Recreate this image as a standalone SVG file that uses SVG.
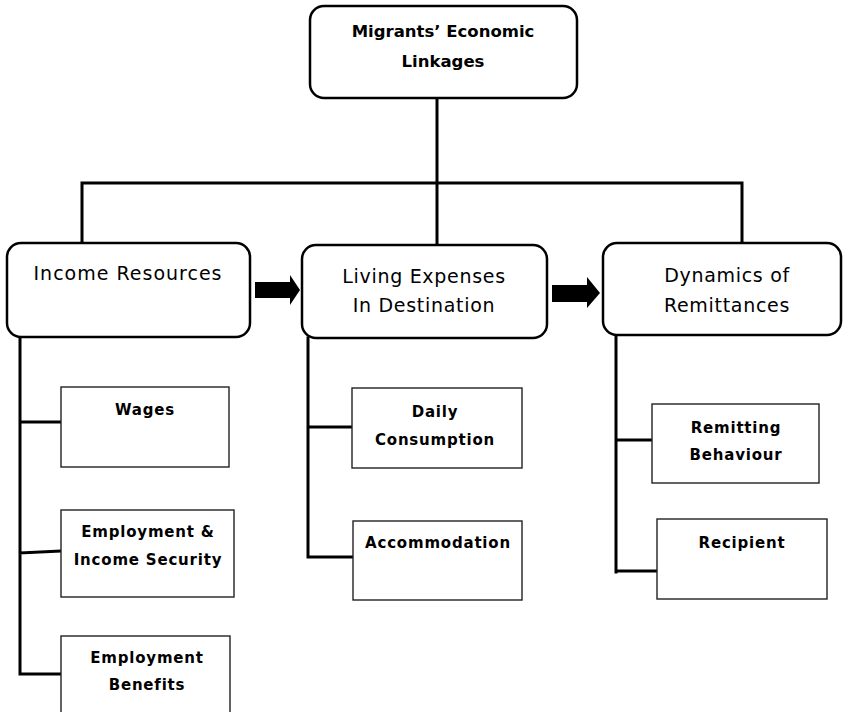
<svg xmlns="http://www.w3.org/2000/svg" width="843" height="712" viewBox="0 0 843 712">
<style>
.rb{fill:#fff;stroke:#000;stroke-width:2.5}
.sb{fill:#fff;stroke:#222;stroke-width:1.4}
.ln{fill:none;stroke:#000;stroke-width:3;stroke-linecap:square}
.ar{fill:#000}
.tt{font-family:"DejaVu Sans",sans-serif;font-weight:bold;font-size:16.5px;fill:#000;text-anchor:middle}
.mt{font-family:"DejaVu Sans",sans-serif;font-size:19px;fill:#000;text-anchor:middle;letter-spacing:0.7px}
.st{font-family:"DejaVu Sans",sans-serif;font-weight:bold;font-size:15px;fill:#000;text-anchor:middle;letter-spacing:0.8px}
</style>
<rect width="843" height="712" fill="#fff"/>
<g id="connectors">
<path class="ln" d="M437 98V183M82 183H742M82 183V243M437 183V245M742 183V243"/>
<path class="ln" d="M20 337V674M20 422H61M20 553L61 551M20 674H61"/>
<path class="ln" d="M308 338V557M308 427H352M308 557H353"/>
<path class="ln" d="M616 335V572M616 440H652M616 571H657"/>
<polygon class="ar" points="255,282 290,282 290,275 300,290 290,305 290,298 255,298"/>
<polygon class="ar" points="552,285 587,285 587,277 600,293 587,308 587,302 552,302"/>
</g>
<g id="top">
<rect class="rb" x="310" y="6" width="267" height="92" rx="14"/>
<text class="tt" x="443" y="37">Migrants’ Economic</text>
<text class="tt" x="443" y="67">Linkages</text>
</g>
<g id="income">
<rect class="rb" x="7" y="243" width="243" height="94" rx="14"/>
<text class="mt" x="128" y="280" style="letter-spacing:1px">Income Resources</text>
</g>
<g id="living">
<rect class="rb" x="302" y="245" width="245" height="93" rx="14"/>
<text class="mt" x="424" y="283">Living Expenses</text>
<text class="mt" x="424" y="312">In Destination</text>
</g>
<g id="dynamics">
<rect class="rb" x="603" y="243" width="238" height="92" rx="14"/>
<text class="mt" x="727" y="282">Dynamics of</text>
<text class="mt" x="727" y="312">Remittances</text>
</g>
<g id="wages">
<rect class="sb" x="61" y="387" width="168" height="80"/>
<text class="st" x="145" y="415">Wages</text>
</g>
<g id="employment-income">
<rect class="sb" x="61" y="510" width="173" height="87"/>
<text class="st" x="148" y="537">Employment &amp;</text>
<text class="st" x="148" y="565">Income Security</text>
</g>
<g id="employment-benefits">
<rect class="sb" x="61" y="636" width="169" height="80"/>
<text class="st" x="147" y="663">Employment</text>
<text class="st" x="147" y="690">Benefits</text>
</g>
<g id="daily">
<rect class="sb" x="352" y="388" width="170" height="80"/>
<text class="st" x="435" y="417">Daily</text>
<text class="st" x="435" y="445">Consumption</text>
</g>
<g id="accommodation">
<rect class="sb" x="353" y="521" width="169" height="79"/>
<text class="st" x="438" y="548">Accommodation</text>
</g>
<g id="remitting">
<rect class="sb" x="652" y="404" width="167" height="79"/>
<text class="st" x="736" y="433">Remitting</text>
<text class="st" x="736" y="460">Behaviour</text>
</g>
<g id="recipient">
<rect class="sb" x="657" y="519" width="170" height="80"/>
<text class="st" x="742" y="548">Recipient</text>
</g>
</svg>
